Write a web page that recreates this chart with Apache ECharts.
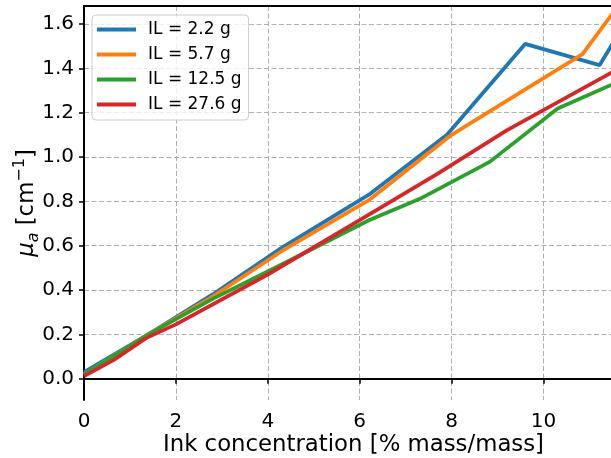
<!DOCTYPE html>
<html>
<head>
<meta charset="utf-8">
<script src="https://cdn.jsdelivr.net/npm/echarts@6/dist/echarts.min.js"></script>
<style>
  html, body { margin: 0; padding: 0; background: #fff; }
  #chart { width: 611px; height: 458px; }
</style>
</head>
<body>
<div id="chart"></div>
<script>
// data
var names = ['IL = 2.2 g', 'IL = 5.7 g', 'IL = 12.5 g', 'IL = 27.6 g'];
var colors = ['#1f77b4', '#ff7f0e', '#2ca02c', '#d62728'];

var x22 = [0, 1.4, 2.8, 4.3, 6.2, 7.9, 9.6, 11.22, 12.0];
var y22 = [0.03, 0.2, 0.38, 0.59, 0.83, 1.10, 1.51, 1.414, 1.68];

var x57 = [0, 1.4, 2.8, 4.3, 6.2, 8.0, 10.85, 11.6];
var y57 = [0.02, 0.2, 0.37, 0.575, 0.805, 1.10, 1.464, 1.674];

var x125 = [0, 1.4, 2.8, 4.4, 6.2, 7.3, 8.83, 10.31, 12.0];
var y125 = [0.02, 0.2, 0.36, 0.525, 0.715, 0.81, 0.978, 1.219, 1.373];

var x276 = [0, 0.65, 1.35, 2.0, 4.0, 6.0, 7.7, 9.2, 12.0];
var y276 = [0.012, 0.085, 0.183, 0.245, 0.47, 0.715, 0.925, 1.12, 1.44];

var xTicks = [0, 2, 4, 6, 8, 10];
var yTicks = [0.0, 0.2, 0.4, 0.6, 0.8, 1.0, 1.2, 1.4, 1.6];

function pairs(xs, ys) {
    return xs.map(function (x, i) { return [x, ys[i]]; });
}
var allData = [pairs(x22, y22), pairs(x57, y57), pairs(x125, y125), pairs(x276, y276)];

var font = 'DejaVu Sans';
var gridLine = { show: true, lineStyle: { color: '#b0b0b0', width: 1, type: [5, 2.5] } };

var myChart = echarts.init(document.getElementById('chart'));

var option = {
    animation: false,
    backgroundColor: '#fff',
    grid: { left: 84, right: 0, top: 6, bottom: 58, outerBoundsMode: 'none', containLabel: false },
    legend: {
        orient: 'vertical',
        left: 92,
        top: 15,
        padding: [6, 7, 7, 5],
        itemGap: 8,
        itemWidth: 39,
        itemHeight: 4,
        icon: 'rect',
        backgroundColor: 'rgba(255,255,255,0.8)',
        borderColor: '#cccccc',
        borderWidth: 1,
        borderRadius: 4,
        textStyle: { fontFamily: font, fontSize: 17, lineHeight: 17, color: '#000', padding: [0, 0, 0, 7] },
        data: names
    },
    xAxis: [{
        type: 'value',
        min: 0,
        max: 11.47,
        name: 'Ink concentration [% mass/mass]',
        nameLocation: 'middle',
        nameGap: 34,
        nameMoveOverlap: false,
        nameTextStyle: { fontFamily: font, fontSize: 22.8, color: '#000', padding: [0, 0, 0, 12] },
        axisLine: { lineStyle: { color: '#000', width: 2 } },
        axisTick: { show: true, length: 5, lineStyle: { color: '#000', width: 1.5 }, customValues: xTicks },
        axisLabel: { fontFamily: font, fontSize: 20, color: '#000', margin: 12, customValues: xTicks },
        splitLine: gridLine
    }, {
        type: 'value',
        position: 'top',
        min: 0,
        max: 11.47,
        axisLine: { show: true, lineStyle: { color: '#000', width: 2 } },
        axisTick: { show: false },
        axisLabel: { show: false },
        splitLine: { show: false }
    }],
    yAxis: {
        type: 'value',
        min: -0.096,
        max: 1.681,
        name: '{m|μ}{s|a}{t| [cm}{p|−1}{t|]}',
        nameLocation: 'middle',
        nameGap: 42,
        nameMoveOverlap: false,
        nameTextStyle: {
            fontFamily: font, fontSize: 22, color: '#000',
            rich: {
                m: { fontFamily: font, fontSize: 22.8, fontStyle: 'italic', color: '#000', lineHeight: 30, verticalAlign: 'middle' },
                s: { fontFamily: font, fontSize: 16, fontStyle: 'italic', color: '#000', lineHeight: 30, verticalAlign: 'bottom' },
                t: { fontFamily: font, fontSize: 22.8, color: '#000', lineHeight: 30, verticalAlign: 'middle' },
                p: { fontFamily: font, fontSize: 16, color: '#000', lineHeight: 30, verticalAlign: 'top' }
            }
        },
        axisLine: { show: true, lineStyle: { color: '#000', width: 2 } },
        axisTick: { show: true, length: 5, lineStyle: { color: '#000', width: 1.5 }, customValues: yTicks },
        axisLabel: {
            fontFamily: font, fontSize: 20, color: '#000', margin: 10,
            customValues: yTicks,
            formatter: function (v) { return v.toFixed(1); }
        },
        splitLine: gridLine
    },
    series: allData.map(function (d, i) {
        return {
            name: names[i],
            type: 'line',
            data: d,
            clip: true,
            showSymbol: false,
            symbol: 'none',
            color: colors[i],
            lineStyle: { color: colors[i], width: 3.8 }
        };
    })
};

myChart.setOption(option);
</script>
</body>
</html>
